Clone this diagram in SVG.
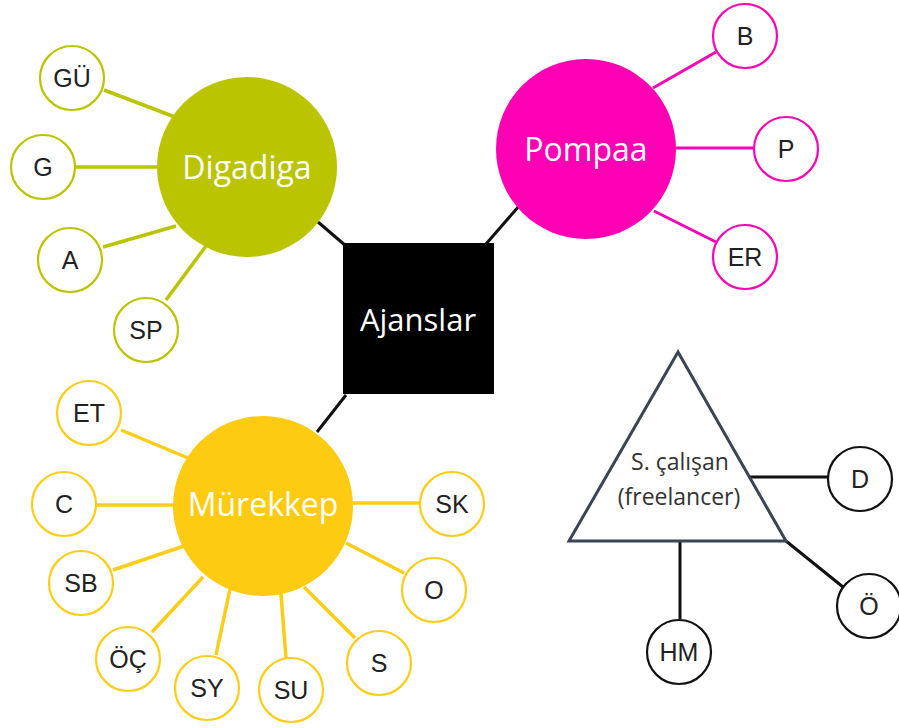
<svg xmlns="http://www.w3.org/2000/svg" width="899" height="728" viewBox="0 0 899 728">
<style>
.bg{fill:#ffffff}
.hub{font-family:"Open Sans","DejaVu Sans",sans-serif;font-size:32px;fill:#ffffff;text-anchor:middle}
.leaf{font-family:"Liberation Sans",Arial,sans-serif;font-size:25px;fill:#222222;text-anchor:middle}
.tri{font-family:"Open Sans","DejaVu Sans",sans-serif;font-size:23px;fill:#333333;text-anchor:middle}
.lg{fill:#ffffff;stroke:#bac400;stroke-width:2.2}
.lp{fill:#ffffff;stroke:#f706b3;stroke-width:2.2}
.ly{fill:#ffffff;stroke:#fccd16;stroke-width:2.2}
.lk{fill:#ffffff;stroke:#111111;stroke-width:2.2}
.cg{stroke:#bac400;stroke-width:3.5;fill:none}
.cp{stroke:#f706b3;stroke-width:3;fill:none}
.cy{stroke:#fccd16;stroke-width:3.5;fill:none}
.ck{stroke:#111111;stroke-width:3;fill:none}
</style>
<rect class="bg" x="0" y="0" width="899" height="728"/>
<g id="connectors">
<line class="ck" x1="318" y1="222" x2="346" y2="246"/>
<line class="ck" x1="519" y1="206" x2="486" y2="244"/>
<line class="ck" x1="317" y1="432" x2="346" y2="395"/>
<line class="cg" x1="104" y1="90" x2="175" y2="117"/>
<line class="cg" x1="76" y1="167" x2="157" y2="167"/>
<line class="cg" x1="103" y1="247" x2="176" y2="226"/>
<line class="cg" x1="166" y1="300" x2="206" y2="246"/>
<line class="cp" x1="653" y1="88" x2="716" y2="52"/>
<line class="cp" x1="676" y1="148" x2="753" y2="148"/>
<line class="cp" x1="654" y1="211" x2="716" y2="242"/>
<line class="cy" x1="121" y1="430" x2="188" y2="458"/>
<line class="cy" x1="97" y1="505" x2="175" y2="505"/>
<line class="cy" x1="113" y1="570" x2="184" y2="546"/>
<line class="cy" x1="152" y1="632" x2="203" y2="577"/>
<line class="cy" x1="216" y1="655" x2="230" y2="589"/>
<line class="cy" x1="286" y1="658" x2="281" y2="594"/>
<line class="cy" x1="355" y1="638" x2="304" y2="587"/>
<line class="cy" x1="404" y1="573" x2="346" y2="543"/>
<line class="cy" x1="353" y1="503" x2="420" y2="503"/>
<line class="ck" x1="750" y1="477" x2="828" y2="477"/>
<line class="ck" x1="786" y1="541" x2="843" y2="587"/>
<line class="ck" x1="680" y1="541" x2="680" y2="619"/>
</g>
<g id="ajanslar">
<rect x="343" y="243" width="151" height="151" fill="#000000"/>
<text class="hub" x="418" y="331" style="font-size:31px">Ajanslar</text>
</g>
<g id="digadiga">
<circle cx="247" cy="167" r="90" fill="#bac400"/>
<text class="hub" x="247" y="179">Digadiga</text>
</g>
<g id="pompaa">
<circle cx="586" cy="149" r="90" fill="#fe00b4"/>
<text class="hub" x="586" y="161">Pompaa</text>
</g>
<g id="murekkep">
<circle cx="263" cy="506" r="90" fill="#fdcb12"/>
<text class="hub" x="263" y="516">Mürekkep</text>
</g>
<g id="freelancer">
<polygon points="678,352 569,541 786,541" fill="#ffffff" stroke="#3b4452" stroke-width="3" stroke-linejoin="miter"/>
<text class="tri" x="680" y="470">S. çalışan</text>
<text class="tri" x="679" y="505">(freelancer)</text>
</g>
<g id="gu"><circle class="lg" cx="72" cy="78" r="32"/><text class="leaf" x="72" y="87">GÜ</text></g>
<g id="g"><circle class="lg" cx="43" cy="167" r="32"/><text class="leaf" x="43" y="176">G</text></g>
<g id="a"><circle class="lg" cx="70" cy="260" r="32"/><text class="leaf" x="70" y="269">A</text></g>
<g id="sp"><circle class="lg" cx="146" cy="330" r="32"/><text class="leaf" x="146" y="339">SP</text></g>
<g id="b"><circle class="lp" cx="745" cy="36" r="32"/><text class="leaf" x="745" y="45">B</text></g>
<g id="p"><circle class="lp" cx="786" cy="149" r="32"/><text class="leaf" x="786" y="158">P</text></g>
<g id="er"><circle class="lp" cx="745" cy="257" r="32"/><text class="leaf" x="745" y="266">ER</text></g>
<g id="et"><circle class="ly" cx="89" cy="413" r="32"/><text class="leaf" x="89" y="422">ET</text></g>
<g id="c"><circle class="ly" cx="64" cy="504" r="32"/><text class="leaf" x="64" y="513">C</text></g>
<g id="sb"><circle class="ly" cx="81" cy="583" r="32"/><text class="leaf" x="81" y="592">SB</text></g>
<g id="oc"><circle class="ly" cx="128" cy="659" r="32"/><text class="leaf" x="128" y="668">ÖÇ</text></g>
<g id="sy"><circle class="ly" cx="207" cy="688" r="32"/><text class="leaf" x="207" y="697">SY</text></g>
<g id="su"><circle class="ly" cx="291" cy="690" r="32"/><text class="leaf" x="291" y="699">SU</text></g>
<g id="s"><circle class="ly" cx="379" cy="663" r="32"/><text class="leaf" x="379" y="672">S</text></g>
<g id="o"><circle class="ly" cx="434" cy="590" r="32"/><text class="leaf" x="434" y="599">O</text></g>
<g id="sk"><circle class="ly" cx="452" cy="504" r="32"/><text class="leaf" x="452" y="513">SK</text></g>
<g id="d"><circle class="lk" cx="860" cy="479" r="32"/><text class="leaf" x="860" y="488">D</text></g>
<g id="oo"><circle class="lk" cx="869" cy="606" r="32"/><text class="leaf" x="869" y="615">Ö</text></g>
<g id="hm"><circle class="lk" cx="679" cy="652" r="32"/><text class="leaf" x="679" y="661">HM</text></g>
</svg>
